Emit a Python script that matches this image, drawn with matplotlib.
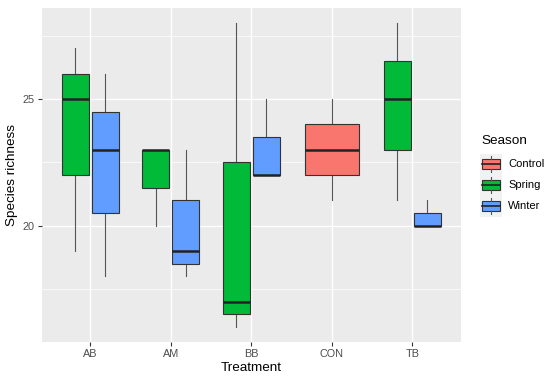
import matplotlib
matplotlib.use("Agg")
import matplotlib.pyplot as plt
from matplotlib.patches import Rectangle
from matplotlib.ticker import FixedLocator

plt.rcParams['font.family'] = ['Liberation Sans', 'DejaVu Sans']

# ---- data ----
treatments = ['AB', 'AM', 'BB', 'CON', 'TB']
seasons = ['Control', 'Spring', 'Winter']
season_colors = {'Control': '#F8766D', 'Spring': '#00BA38', 'Winter': '#619CFF'}

grp_treatment = ['AB', 'AB', 'AM', 'AM', 'BB', 'BB', 'CON', 'TB', 'TB']
grp_season = ['Spring', 'Winter', 'Spring', 'Winter', 'Spring', 'Winter', 'Control', 'Spring', 'Winter']
whislo = [19, 18, 20, 18, 16, 22, 21, 21, 20]
q1 = [22, 20.5, 21.5, 18.5, 16.5, 22, 22, 23, 20]
med = [25, 23, 23, 19, 17, 22, 23, 25, 20]
q3 = [26, 24.5, 23, 21, 22.5, 23.5, 24, 26.5, 20.5]
whishi = [27, 26, 23, 23, 28, 25, 25, 28, 21]

W, H = 550, 380
fig = plt.figure(figsize=(W / 100, H / 100), dpi=100)
fig.patch.set_facecolor('white')

def px_rect(x0, y0, x1, y1):
    return [x0 / W, 1 - y1 / H, (x1 - x0) / W, (y1 - y0) / H]

ax = fig.add_axes(px_rect(42, 8, 460.5, 342))
ax.set_facecolor('#EBEBEB')
for s in ax.spines.values():
    s.set_visible(False)

# positions via dodge2-like layout
stats = []
positions = []
widths = []
colors = []
for i, (t, s) in enumerate(zip(grp_treatment, grp_season)):
    members = [k for k, tt in enumerate(grp_treatment) if tt == t]
    n = len(members)
    j = members.index(i)
    x = treatments.index(t) + 1
    slot = 0.75 / n
    positions.append(x - 0.375 + slot * (j + 0.5))
    widths.append(slot * 0.9)
    colors.append(season_colors[s])
    stats.append(dict(whislo=whislo[i], q1=q1[i], med=med[i], q3=q3[i],
                      whishi=whishi[i], fliers=[]))

bp = ax.bxp(stats, positions=positions, widths=widths, patch_artist=True,
            showcaps=False, showfliers=False, manage_ticks=False,
            boxprops=dict(edgecolor='#333333', linewidth=0.8),
            whiskerprops=dict(color='#555555', linewidth=0.8),
            medianprops=dict(color='#222222', linewidth=1.8, solid_capstyle='butt'))
for patch, c in zip(bp['boxes'], colors):
    patch.set_facecolor(c)
    patch.set_zorder(3)
for m in bp['medians']:
    m.set_zorder(4)
for w in bp['whiskers']:
    w.set_zorder(2)

ax.set_xlim(0.4, len(treatments) + 0.6)
ax.set_ylim(15.4, 28.6)

# grid
ax.yaxis.set_major_locator(FixedLocator([20, 25]))
ax.yaxis.set_minor_locator(FixedLocator([17.5, 22.5, 27.5]))
ax.set_xticks(range(1, len(treatments) + 1))
ax.set_xticklabels(treatments)
ax.grid(which='major', color='white', linewidth=1.0)
ax.grid(which='minor', axis='y', color='white', linewidth=0.5)
ax.set_axisbelow(True)
ax.tick_params(which='major', length=2.8, width=0.8, color='#333333',
               labelcolor='#4D4D4D', labelsize=7.8, pad=2.5)
ax.tick_params(which='minor', length=0)

ax.set_xlabel('Treatment', fontsize=9.7, color='black', labelpad=2)
ax.set_ylabel('Species richness', fontsize=9.7, color='black', labelpad=3)

# ---- legend ----
fig.text(481 / W, 1 - 141.5 / H, 'Season', fontsize=9.7, va='center', ha='left')
lax = fig.add_axes(px_rect(480, 153.5, 501.7, 216.5))
lax.set_xlim(0, 1)
lax.set_ylim(len(seasons), 0)
lax.axis('off')
lax.add_patch(Rectangle((0, 0), 1, len(seasons), facecolor='#F2F2F2', edgecolor='none'))
for k, s in enumerate(seasons):
    lax.plot([0.5, 0.5], [k + 0.1, k + 0.25], color='#555555', lw=0.8)
    lax.plot([0.5, 0.5], [k + 0.75, k + 0.9], color='#555555', lw=0.8)
    lax.add_patch(Rectangle((0.1, k + 0.25), 0.8, 0.5, facecolor=season_colors[s],
                            edgecolor='#333333', linewidth=0.8))
    lax.plot([0.1, 0.9], [k + 0.5, k + 0.5], color='#222222', lw=1.2)
    yc = 153.5 + (k + 0.5) * (63.0 / len(seasons))
    fig.text(508 / W, 1 - yc / H, s, fontsize=8.0, va='center', ha='left')

fig.savefig('out.png', dpi=100)
